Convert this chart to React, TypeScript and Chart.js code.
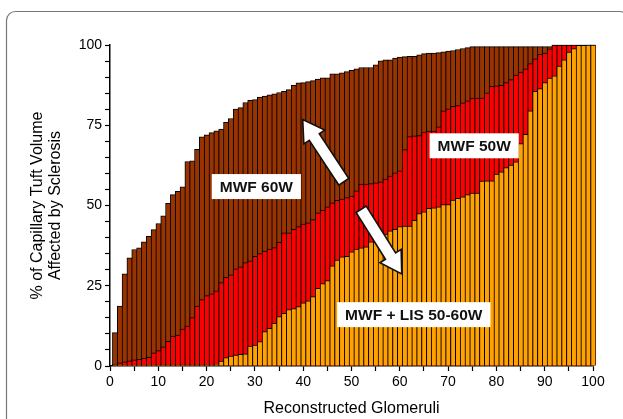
import { useEffect, useRef } from 'react';
import { Chart, registerables } from 'chart.js';

Chart.register(...registerables);

// Glomerulus index (x categories)
const GLOMERULI: number[] = Array.from({ length: 100 }, (_, i) => i + 1);

// % of capillary tuft volume affected by sclerosis, sorted per group
const MWF_60W: number[] = [
  10.4, 18.7, 28.7, 33.7, 36.3, 36.8, 38.7, 40.4, 42.5, 44.4,
  46.8, 50.7, 53.4, 54.4, 55.8, 63.7, 63.9, 67.5, 71.4, 72.0,
  72.7, 73.3, 73.8, 75.9, 77.1, 80.0, 80.5, 82.1, 82.8, 83.0,
  83.8, 84.1, 84.5, 84.8, 85.2, 85.6, 86.1, 87.4, 88.2, 88.3,
  88.6, 88.9, 89.4, 89.8, 89.8, 91.0, 91.0, 91.3, 91.7, 92.1,
  92.6, 93.0, 93.0, 93.0, 93.8, 95.1, 95.4, 95.4, 95.9, 96.2,
  96.4, 96.5, 96.5, 96.9, 97.3, 97.5, 97.5, 97.6, 97.9, 98.1,
  98.3, 98.6, 98.9, 99.2, 99.5, 99.5, 99.5, 99.5, 99.5, 99.5,
  99.5, 99.5, 99.5, 99.5, 99.5, 99.5, 99.5, 99.5, 99.5, 99.5,
  99.5, 100, 100, 100, 100, 100, 100, 100, 100, 100,
];

const MWF_50W: number[] = [
  0.5, 1.0, 1.3, 1.6, 1.9, 2.1, 2.4, 2.7, 4.1, 4.8,
  6.0, 7.7, 9.3, 9.6, 11.5, 12.4, 15.1, 18.7, 20.7, 21.9,
  22.5, 23.4, 26.0, 27.6, 28.4, 30.3, 30.9, 32.2, 32.8, 34.2,
  35.0, 35.8, 36.4, 36.9, 38.5, 41.5, 41.5, 42.6, 43.4, 44.2,
  44.6, 45.6, 47.7, 48.5, 49.6, 50.8, 51.6, 52.0, 52.5, 52.9,
  54.6, 56.7, 56.7, 56.8, 57.1, 57.4, 58.2, 59.2, 60.2, 60.8,
  67.4, 71.5, 71.7, 71.8, 72.9, 73.2, 73.2, 74.5, 79.5, 80.1,
  80.9, 81.1, 82.0, 82.6, 83.5, 83.5, 83.5, 85.1, 87.1, 87.3,
  87.4, 88.3, 89.2, 90.6, 91.6, 92.6, 94.2, 95.7, 97.1, 97.5,
  98.8, 100, 100, 100, 100, 100, 100, 100, 100, 100,
];

const MWF_LIS_50_60W: number[] = [
  0.4, 0.4, 0.4, 0.4, 0.4, 0.4, 0.4, 0.4, 0.4, 0.4,
  0.4, 0.4, 0.4, 0.4, 0.4, 0.4, 0.4, 0.4, 0.4, 0.4,
  0.4, 0.5, 1.5, 2.6, 3.1, 3.4, 3.6, 3.8, 6.2, 6.5,
  7.6, 10.7, 11.7, 13.3, 15.4, 16.4, 17.6, 17.9, 18.5, 19.7,
  20.3, 21.6, 24.2, 25.7, 26.6, 31.2, 33.0, 34.0, 34.2, 35.6,
  36.4, 36.8, 37.1, 38.7, 39.4, 40.2, 41.1, 42.1, 42.6, 43.4,
  43.6, 43.6, 45.4, 47.5, 48.0, 49.1, 49.3, 49.6, 50.3, 50.3,
  51.7, 52.2, 52.7, 53.4, 53.9, 53.9, 57.6, 57.7, 57.7, 59.8,
  60.5, 61.8, 62.6, 63.6, 69.3, 72.2, 79.5, 85.6, 86.4, 88.3,
  89.7, 90.4, 93.4, 95.4, 97.8, 98.9, 99.9, 99.9, 100, 100,
];

const SERIES_NAMES = ['MWF + LIS 50-60W', 'MWF 50W', 'MWF 60W'];
const Y_TICK_LABELS = [0, 25, 50, 75, 100];
const X_TICK_LABELS = [0, 10, 20, 30, 40, 50, 60, 70, 80, 90, 100];

// annotation labels: [text, x, y] in data units (centre)
const LABELS: [string, number, number][] = [
  ['MWF 60W', 30.3, 55.9],
  ['MWF 50W', 75.4, 68.6],
  ['MWF + LIS 50-60W', 62.9, 16.0],
];
// arrows: [tailX, tailY, tipX, tipY] in data units
const ARROWS: [number, number, number, number][] = [
  [48.4, 57.4, 39.9, 76.8],
  [52.0, 48.8, 60.4, 28.7],
];

const FONT = "'Liberation Sans', Arial, Helvetica, sans-serif";

const annotationPlugin = {
  id: 'annotations',
  beforeDraw(chart: any) {
    const ctx = chart.ctx;
    ctx.save();
    ctx.strokeStyle = '#777';
    ctx.lineWidth = 1.2;
    ctx.beginPath();
    ctx.roundRect(6.5, 11.5, 622, 430, 9);
    ctx.stroke();
    ctx.restore();
  },
  afterDatasetsDraw(chart: any) {
    const ctx = chart.ctx;
    const xs = chart.scales.x;
    const ys = chart.scales.y;
    ctx.save();
    for (const [tx, ty, hx, hy] of ARROWS) {
      const x0 = xs.getPixelForValue(tx);
      const y0 = ys.getPixelForValue(ty);
      const x1 = xs.getPixelForValue(hx);
      const y1 = ys.getPixelForValue(hy);
      const dx = x1 - x0;
      const dy = y1 - y0;
      const len = Math.hypot(dx, dy);
      const ux = dx / len;
      const uy = dy / len;
      const nx = -uy;
      const ny = ux;
      const sw = 6;
      const hw = 12.5;
      const hl = 21;
      const bx = x1 - ux * hl;
      const by = y1 - uy * hl;
      ctx.beginPath();
      ctx.moveTo(x0 + nx * sw, y0 + ny * sw);
      ctx.lineTo(bx + nx * sw, by + ny * sw);
      ctx.lineTo(bx + nx * hw, by + ny * hw);
      ctx.lineTo(x1, y1);
      ctx.lineTo(bx - nx * hw, by - ny * hw);
      ctx.lineTo(bx - nx * sw, by - ny * sw);
      ctx.lineTo(x0 - nx * sw, y0 - ny * sw);
      ctx.closePath();
      ctx.fillStyle = '#ffffff';
      ctx.fill();
      ctx.strokeStyle = '#111';
      ctx.lineWidth = 1.6;
      ctx.lineJoin = 'miter';
      ctx.stroke();
    }
    ctx.font = `bold 15.5px ${FONT}`;
    ctx.textAlign = 'center';
    ctx.textBaseline = 'middle';
    for (const [text, lx, ly] of LABELS) {
      const cx = xs.getPixelForValue(lx);
      const cy = ys.getPixelForValue(ly);
      const w = ctx.measureText(text).width + 16;
      const h = 25;
      ctx.fillStyle = '#ffffff';
      ctx.fillRect(cx - w / 2, cy - h / 2, w, h);
      ctx.fillStyle = '#111';
      ctx.fillText(text, cx, cy + 1);
    }
    ctx.restore();
  },
};

const makeData = (values: number[]) => GLOMERULI.map((g, i) => ({ x: g, y: values[i] }));

export default function App() {
  const ref = useRef<HTMLCanvasElement | null>(null);

  useEffect(() => {
    if (!ref.current) return;
    const common = {
      borderColor: '#000000',
      borderWidth: { top: 1, left: 1, right: 0.4, bottom: 0 },
      borderSkipped: false,
      barPercentage: 1,
      categoryPercentage: 1,
      grouped: false,
      clip: 6,
    };
    const chart = new Chart(ref.current, {
      type: 'bar',
      data: {
        datasets: [
          { ...common, label: SERIES_NAMES[0], data: makeData(MWF_LIS_50_60W), backgroundColor: '#FFA200' },
          { ...common, label: SERIES_NAMES[1], data: makeData(MWF_50W), backgroundColor: '#FF0000' },
          { ...common, label: SERIES_NAMES[2], data: makeData(MWF_60W), backgroundColor: '#993300' },
        ] as any,
      },
      options: {
        animation: false,
        responsive: false,
        maintainAspectRatio: false,
        events: [],
        layout: { padding: { left: 0, top: 45, right: 30, bottom: 0 } },
        plugins: { legend: { display: false }, tooltip: { enabled: false } },
        scales: {
          x: {
            type: 'linear',
            min: 0,
            max: 100,
            offset: false,
            border: { display: true, color: '#000', width: 1.5 },
            grid: { display: true, drawOnChartArea: false, drawTicks: true, tickLength: 5, tickColor: '#000', tickWidth: 1.2, offset: false },
            ticks: {
              stepSize: 5,
              autoSkip: false,
              maxRotation: 0,
              padding: 3,
              color: '#000',
              font: { family: FONT, size: 14 },
              callback: (v: any) => (X_TICK_LABELS.includes(Number(v)) ? String(v) : ''),
            },
            title: {
              display: true,
              text: 'Reconstructed Glomeruli',
              color: '#000',
              font: { family: FONT, size: 16 },
              padding: { top: 0, bottom: 1 },
            },
            afterFit: (s: any) => { s.height = 53; },
          } as any,
          y: {
            type: 'linear',
            min: 0,
            max: 100,
            border: { display: true, color: '#000', width: 1.5 },
            grid: { display: true, drawOnChartArea: false, drawTicks: true, tickLength: 5, tickColor: '#000', tickWidth: 1.2 },
            ticks: {
              stepSize: 5,
              autoSkip: false,
              padding: 3,
              color: '#000',
              font: { family: FONT, size: 14 },
              callback: (v: any) => (Y_TICK_LABELS.includes(Number(v)) ? String(v) : ''),
            },
            title: {
              display: true,
              text: ['% of Capillary Tuft Volume', 'Affected by Sclerosis'],
              color: '#000',
              font: { family: FONT, size: 16, lineHeight: 1.07 },
              padding: { top: 29.5, bottom: 0 },
            },
            afterFit: (s: any) => { s.width = 110; },
          } as any,
        },
      } as any,
      plugins: [annotationPlugin],
    });
    return () => chart.destroy();
  }, []);

  return (
    <div style={{ position: 'absolute', left: 0, top: 0, width: 623, height: 419, background: '#fff' }}>
      <canvas ref={ref} width={623} height={419} style={{ display: 'block', width: 623, height: 419 }} />
    </div>
  );
}
